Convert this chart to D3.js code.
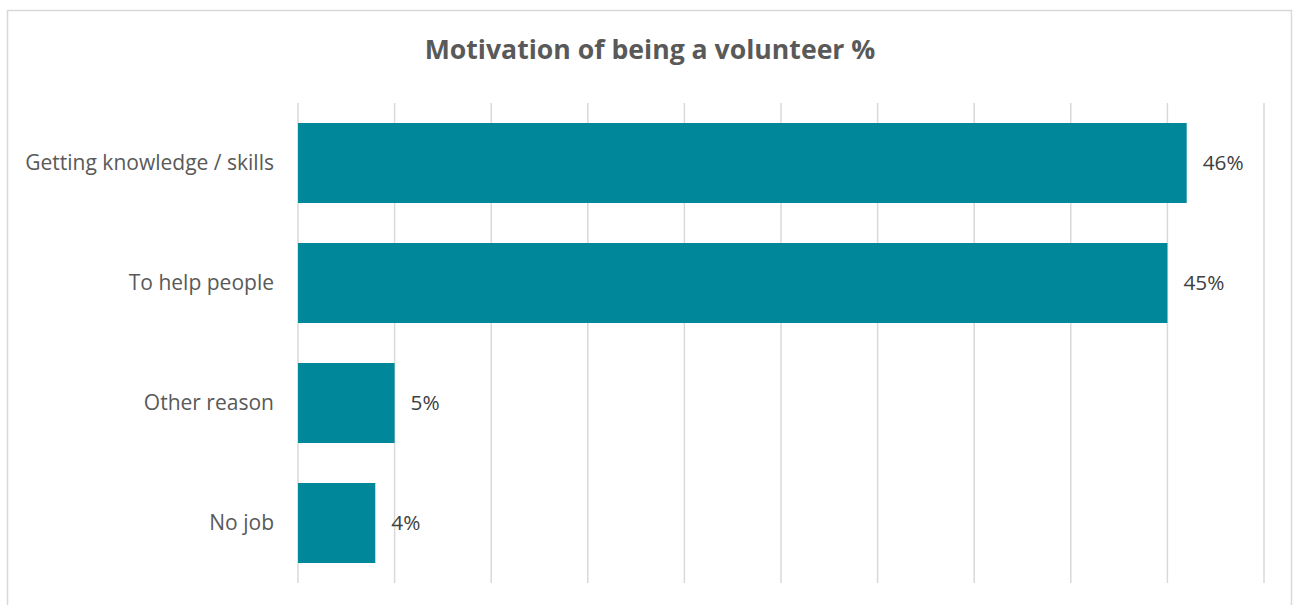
<!DOCTYPE html>
<html>
<head>
<meta charset="utf-8">
<script src="https://cdn.jsdelivr.net/npm/d3@7/dist/d3.min.js"></script>
<style>
  html, body { margin: 0; padding: 0; background: #fff; }
  svg { display: block; }
  text { font-family: "Open Sans", "DejaVu Sans", sans-serif; }
</style>
</head>
<body>
<svg id="chart" width="1293" height="605"></svg>
<script>
// Survey answers: motivation for volunteering (share of respondents, %)
const categories = ["Getting knowledge / skills", "To help people", "Other reason", "No job"];
const values = [46, 45, 5, 4];
const xTicks = [0, 5, 10, 15, 20, 25, 30, 35, 40, 45, 50];
const title = "Motivation of being a volunteer %";

const W = 1293, H = 605;
const margin = { top: 103, right: 29, bottom: 22, left: 298 };
const svg = d3.select("#chart");

// chart frame
svg.append("rect")
  .attr("x", 7.5).attr("y", 10.5)
  .attr("width", W - 9).attr("height", H)
  .attr("fill", "none").attr("stroke", "#d9d9d9").attr("stroke-width", 1.5);

const x = d3.scaleLinear().domain([0, 50]).range([margin.left, W - margin.right]);
const y = d3.scaleBand().domain(categories)
  .range([margin.top, H - margin.bottom])
  .paddingInner(1 / 3).paddingOuter(1 / 6);

// vertical gridlines
svg.append("g").selectAll("line").data(xTicks).join("line")
  .attr("x1", d => x(d)).attr("x2", d => x(d))
  .attr("y1", margin.top).attr("y2", H - margin.bottom)
  .attr("stroke", "#d9d9d9").attr("stroke-width", 1.5);

// bars
svg.append("g").selectAll("rect").data(values).join("rect")
  .attr("x", x(0))
  .attr("y", (d, i) => y(categories[i]))
  .attr("width", d => x(d) - x(0))
  .attr("height", y.bandwidth())
  .attr("fill", "#00889a");

// shrink a text node's font until it spans the given width
function fitWidth(sel, width) {
  sel.each(function () {
    const t = d3.select(this);
    const fs = parseFloat(t.attr("font-size"));
    const w = this.getComputedTextLength();
    t.attr("font-size", (fs * width / w).toFixed(2));
  });
}

// value labels
const valLabels = svg.append("g").selectAll("text").data(values).join("text")
  .attr("x", d => x(d) + 16)
  .attr("y", (d, i) => y(categories[i]) + y.bandwidth() / 2)
  .attr("dy", "0.35em")
  .attr("font-size", 18)
  .attr("fill", "#404040")
  .text(d => d + "%");
fitWidth(valLabels.filter((d, i) => i === 0), 41);
valLabels.attr("font-size", valLabels.filter((d, i) => i === 0).attr("font-size"));

// category labels
const catLabels = svg.append("g").selectAll("text").data(categories).join("text")
  .attr("x", margin.left - 24)
  .attr("y", d => y(d) + y.bandwidth() / 2)
  .attr("dy", "0.35em")
  .attr("text-anchor", "end")
  .attr("font-size", 18)
  .attr("fill", "#595959")
  .text(d => d);
fitWidth(catLabels.filter((d, i) => i === 0), 249);
catLabels.attr("font-size", catLabels.filter((d, i) => i === 0).attr("font-size"));

// title
const t = svg.append("text")
  .attr("x", 650).attr("y", 59)
  .attr("text-anchor", "middle")
  .attr("font-size", 24).attr("font-weight", "bold")
  .attr("fill", "#595959")
  .text(title);
fitWidth(t, 451);
</script>
</body>
</html>
